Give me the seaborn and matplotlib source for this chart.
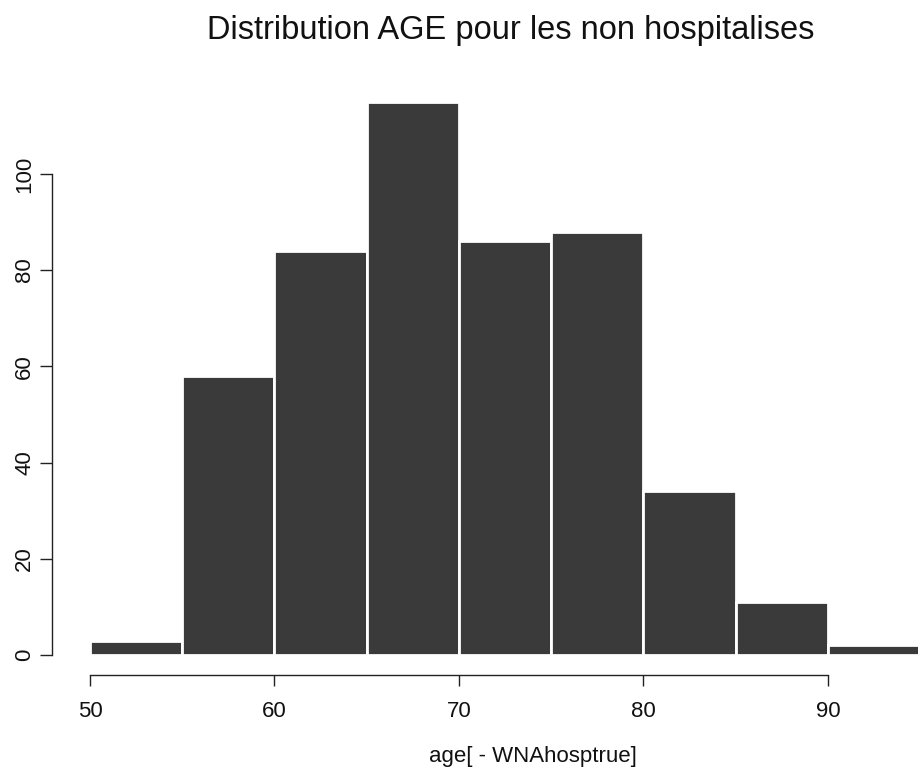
import numpy as np
import matplotlib
matplotlib.use("Agg")
import matplotlib.pyplot as plt
import seaborn as sns

# Histogram of age for non-hospitalised patients (5-year bins)
bin_edges = [50, 55, 60, 65, 70, 75, 80, 85, 90, 95]
counts = [3, 58, 84, 115, 86, 88, 34, 11, 2]
x_ticks = [50, 60, 70, 80, 90]
y_ticks = [0, 20, 40, 60, 80, 100]

title = "Distribution AGE pour les non hospitalises"
xlabel = "age[ - WNAhosptrue]"

sns.set_style("white")
plt.rcParams["font.family"] = ["Liberation Sans", "DejaVu Sans"]

fig = plt.figure(figsize=(9.18, 7.70), dpi=100)
ax = fig.add_axes([0.0566, 0.1234, 0.9434, 0.7532])

centers = [(a + b) / 2 for a, b in zip(bin_edges[:-1], bin_edges[1:])]
sns.histplot(x=centers, weights=counts, bins=bin_edges, ax=ax,
             color="#3a3a3a", edgecolor="white", linewidth=2.0, alpha=1.0)

ax.set_xlim(47.94, 94.88)
ax.set_ylim(-4.16, 116.4)

for side in ("top", "right"):
    ax.spines[side].set_visible(False)
ax.spines["left"].set_bounds(0, 100)
ax.spines["bottom"].set_bounds(50, 90)
for side in ("left", "bottom"):
    ax.spines[side].set_color("#222222")
    ax.spines[side].set_linewidth(1.0)

ax.set_xticks(x_ticks)
ax.set_yticks(y_ticks)
ax.set_yticklabels([str(v) for v in y_ticks], rotation=90, va="center")
ax.tick_params(axis="both", which="major", direction="out", colors="#222222",
               labelsize=16, labelcolor="#111111", left=True, bottom=True)
ax.tick_params(axis="y", length=9, width=1.0, pad=3)
ax.tick_params(axis="x", length=8, width=1.0, pad=11)

ax.set_ylabel("")
ax.set_xlabel("")
fig.text(533 / 918, 1 - 762 / 770, xlabel, ha="center", va="baseline",
         fontsize=16, color="#111111")

fig.text(511 / 918, 1 - 39 / 770, title, ha="center", va="baseline",
         fontsize=23.5, color="#111111")

fig.savefig("out.png", dpi=100)
